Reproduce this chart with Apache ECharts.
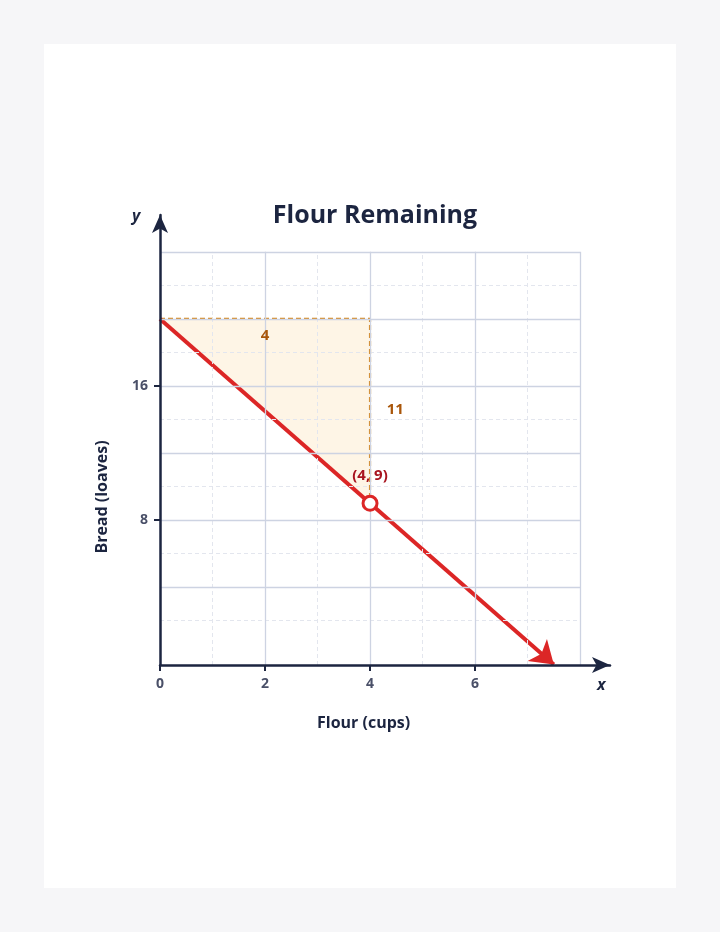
<!DOCTYPE html><html><head><meta charset="utf-8">
<script src="https://cdn.jsdelivr.net/npm/echarts@6/dist/echarts.min.js"></script>
<style>html,body{margin:0;background:#f6f6f8}#c{position:absolute;left:44px;top:44px;width:632px;height:844px;background:#fff}</style>
</head><body><div id="c"></div><script>
const lineStart=[0,20], lineEnd=[7.5,-0.625];
const point=[4,9];
const triangle=[[0,20],[4,20],[4,9]];
const xMajor=[2,4,6,8], xMinor=[1,3,5,7];
const yMajor=[4,8,12,16,20,24], yMinor=[2,6,10,14,18,22];
const xTickLabels=[0,2,4,6], yTickLabels=[8,16];
const yMin=-0.65, xGridMax=8, yGridMax=24;
const F='"Open Sans","Noto Sans",sans-serif';
const ch=echarts.init(document.getElementById('c'));
function vl(xs){return xs.map(x=>[{coord:[x,yMin]},{coord:[x,yGridMax]}]);}
function hl(ys){return ys.map(y=>[{coord:[0,y]},{coord:[xGridMax,y]}]);}
ch.setOption({
animation:false,
title:{text:'Flour Remaining',left:326,top:154,textAlign:'center',textStyle:{fontFamily:F,fontSize:25,fontWeight:'bold',color:'#1c2540',textBorderWidth:0}},
grid:{left:116,right:66,top:171,bottom:223},
xAxis:{type:'value',min:0,max:8.57,splitLine:{show:false},z:6,
 axisLine:{onZero:false,lineStyle:{color:'#1c2540',width:2.5},symbol:['none','arrow'],symbolSize:[12,18]},
 axisTick:{customValues:xTickLabels,length:6,lineStyle:{color:'#1c2540',width:2}},
 axisLabel:{customValues:xTickLabels,fontFamily:F,fontSize:14,fontWeight:'bold',color:'#4a5068',margin:12}},
yAxis:{type:'value',min:yMin,max:26.2,splitLine:{show:false},z:6,
 axisLine:{onZero:false,lineStyle:{color:'#1c2540',width:2.5},symbol:['none','arrow'],symbolSize:[12,18]},
 axisTick:{customValues:yTickLabels,length:6,lineStyle:{color:'#1c2540',width:2}},
 axisLabel:{customValues:yTickLabels,fontFamily:F,fontSize:14,fontWeight:'bold',color:'#4a5068',margin:12}},
graphic:[
 {type:'text',left:88,top:164,style:{text:'y',fontFamily:F,fontSize:16,fontStyle:'italic',fontWeight:'bold',fill:'#1c2540'}},
 {type:'text',left:553,top:633,style:{text:'x',fontFamily:F,fontSize:16,fontStyle:'italic',fontWeight:'bold',fill:'#1c2540'}},
 {type:'text',left:273,top:671,style:{text:'Flour (cups)',fontFamily:F,fontSize:16,fontWeight:'bold',fill:'#1c2540'}},
 {type:'text',x:58,y:453,rotation:Math.PI/2,style:{text:'Bread (loaves)',fontFamily:F,fontSize:16,fontWeight:'bold',fill:'#1c2540',align:'center',verticalAlign:'middle'}}
],
series:[
 {type:'line',data:[],silent:true,z:1,markLine:{silent:true,symbol:'none',label:{show:false},lineStyle:{color:'#e3e6ee',type:[4,3],width:1},data:vl(xMinor).concat(hl(yMinor))}},
 {type:'line',data:[],silent:true,z:1,markLine:{silent:true,symbol:'none',label:{show:false},lineStyle:{color:'#cdd3e2',type:'solid',width:1.3},data:vl(xMajor).concat(hl(yMajor))}},
 {type:'custom',z:2,renderItem:(p,api)=>({type:'polygon',shape:{points:triangle.map(t=>api.coord(t))},style:{fill:'rgba(253,236,210,0.55)'}}),data:[0]},
 {type:'line',z:3,data:triangle,symbol:'none',lineStyle:{color:'#d4871f',width:2.2,type:[5,3],opacity:1}},
 {type:'lines',z:4,coordinateSystem:'cartesian2d',symbol:['none','arrow'],symbolSize:[0,22],lineStyle:{color:'#dc2626',width:4,opacity:1},data:[{coords:[lineStart,lineEnd]}]},
 {type:'scatter',z:5,data:[point],symbol:'circle',symbolSize:14,itemStyle:{color:'#fff',borderColor:'#dc2626',borderWidth:3,opacity:1},
  label:{show:true,position:'top',distance:12,formatter:'(4, 9)',fontFamily:F,fontSize:15,fontWeight:'bold',color:'#a8141f'}},
 {type:'scatter',z:5,data:[[2,19],[4.48,14.6]],symbolSize:0,itemStyle:{opacity:1},label:{show:true,position:'inside',formatter:p=>p.dataIndex?'11':'4',fontFamily:F,fontSize:15,fontWeight:'bold',color:'#a9560a'}}
]});
</script></body></html>
